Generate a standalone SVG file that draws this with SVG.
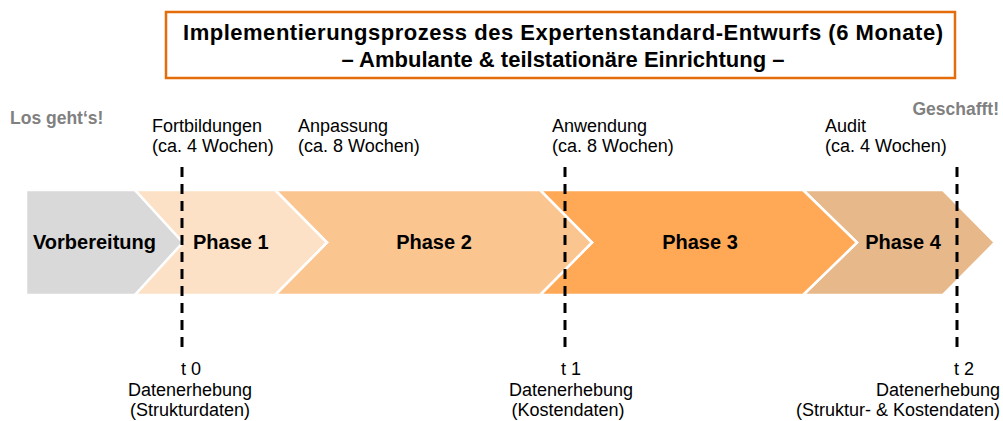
<svg xmlns="http://www.w3.org/2000/svg" width="1003" height="421" viewBox="0 0 1003 421">
<style>
.t{font-family:"Liberation Sans",Arial,sans-serif;font-size:18px;fill:#000}
.b{font-family:"Liberation Sans",Arial,sans-serif;font-weight:bold;fill:#000}
.ph{font-size:20px}
.g{font-family:"Liberation Sans",Arial,sans-serif;font-weight:bold;font-size:17.5px;fill:#808080}
.chev{stroke:#fff;stroke-width:2.5;stroke-linejoin:miter}
.dash{stroke:#000;stroke-width:3;stroke-dasharray:10 7;fill:none}
</style>
<rect width="1003" height="421" fill="#fff"/>
<g id="title">
<rect x="166" y="12" width="789" height="66" fill="#fff" stroke="#E46C0A" stroke-width="2.5"/>
<text class="b" x="563" y="40" font-size="22" text-anchor="middle" textLength="760" lengthAdjust="spacing">Implementierungsprozess des Expertenstandard-Entwurfs (6 Monate)</text>
<text class="b" x="563" y="67" font-size="22" text-anchor="middle">– Ambulante &amp; teilstationäre Einrichtung –</text>
</g>
<g id="start-label"><text class="g" x="10" y="124">Los geht‘s!</text></g>
<g id="end-label"><text class="g" x="999" y="115" text-anchor="end">Geschafft!</text></g>
<g id="vorbereitung">
<polygon class="chev" points="26,190 135,190 183,242.5 135,295 26,295" fill="#D9D9D9"/>
<text class="b ph" x="33" y="249">Vorbereitung</text>
</g>
<g id="phase4">
<polygon class="chev" points="803,190 943,190 995,242.5 943,295 803,295 857,242.5" fill="#E6B88A"/>
<text class="b ph" x="903" y="249" text-anchor="middle">Phase 4</text>
</g>
<g id="phase3">
<polygon class="chev" points="540,190 803,190 857,242.5 803,295 540,295 592,242.5" fill="#FFA957"/>
<text class="b ph" x="700" y="249" text-anchor="middle">Phase 3</text>
</g>
<g id="phase2">
<polygon class="chev" points="275,190 540,190 592,242.5 540,295 275,295 327,242.5" fill="#FBC590"/>
<text class="b ph" x="434" y="249" text-anchor="middle">Phase 2</text>
</g>
<g id="phase1">
<polygon class="chev" points="135,190 275,190 327,242.5 275,295 135,295 183,242.5" fill="#FDE1C6"/>
<text class="b ph" x="193" y="249">Phase 1</text>
</g>
<g id="connectors">
<line class="dash" x1="182" y1="167" x2="182" y2="354"/>
<line class="dash" x1="565" y1="167" x2="565" y2="354"/>
<line class="dash" x1="957" y1="167" x2="957" y2="354"/>
</g>
<g id="label-fortbildungen">
<text class="t" x="152" y="132">Fortbildungen</text>
<text class="t" x="152" y="152">(ca. 4 Wochen)</text>
</g>
<g id="label-anpassung">
<text class="t" x="298" y="132">Anpassung</text>
<text class="t" x="298" y="152">(ca. 8 Wochen)</text>
</g>
<g id="label-anwendung">
<text class="t" x="552" y="132">Anwendung</text>
<text class="t" x="552" y="152">(ca. 8 Wochen)</text>
</g>
<g id="label-audit">
<text class="t" x="825" y="132">Audit</text>
<text class="t" x="825" y="152">(ca. 4 Wochen)</text>
</g>
<g id="t0">
<text class="t" x="191" y="375" text-anchor="middle">t 0</text>
<text class="t" x="190" y="396" text-anchor="middle">Datenerhebung</text>
<text class="t" x="190" y="416" text-anchor="middle">(Strukturdaten)</text>
</g>
<g id="t1">
<text class="t" x="571" y="375" text-anchor="middle">t 1</text>
<text class="t" x="571" y="396" text-anchor="middle">Datenerhebung</text>
<text class="t" x="568" y="416" text-anchor="middle">(Kostendaten)</text>
</g>
<g id="t2">
<text class="t" x="964" y="375" text-anchor="middle">t 2</text>
<text class="t" x="1000" y="396" text-anchor="end">Datenerhebung</text>
<text class="t" x="1000" y="416" text-anchor="end">(Struktur- &amp; Kostendaten)</text>
</g>
</svg>
